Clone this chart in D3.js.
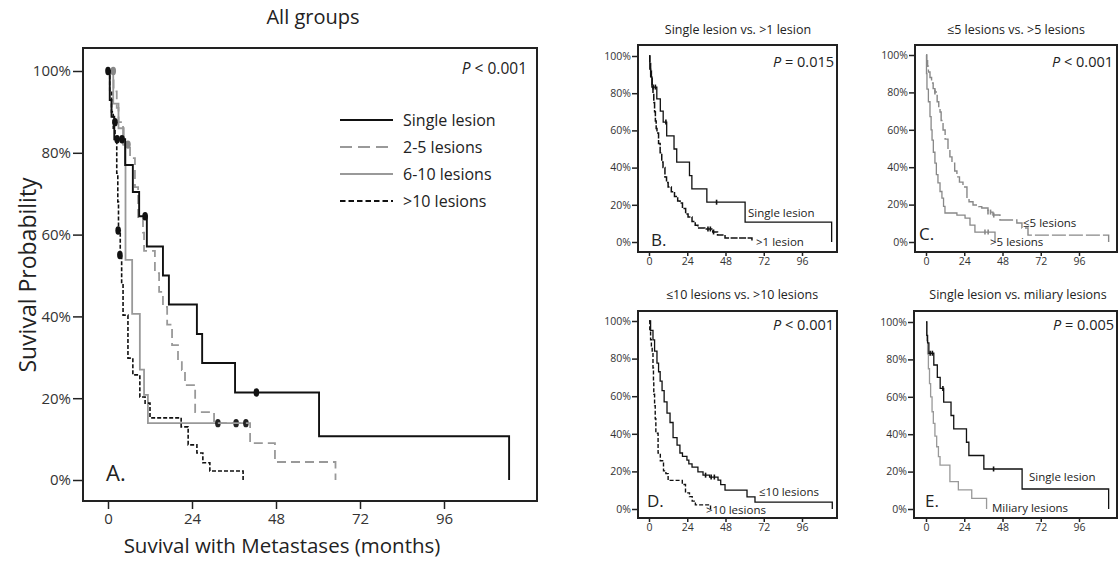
<!DOCTYPE html>
<html>
<head>
<meta charset="utf-8">
<script src="https://cdn.jsdelivr.net/npm/d3@7"></script>
<style>
  html, body { margin: 0; padding: 0; background: #fff; }
  svg { display: block; font-family: "Open Sans", "Noto Sans", sans-serif; }
</style>
</head>
<body>
<svg id="chart" width="1120" height="562"></svg>
<script>
// ---------------- DATA (month, survival %) step points ----------------
const xTicks = [0, 24, 48, 72, 96];
const yTicks = [0, 20, 40, 60, 80, 100];

const singleLesion = [[0,100],[0.5,92.9],[1.0,88.8],[1.8,83.3],[4.9,77.0],[7.1,70.4],[8.9,64.5],[11.1,57.1],[15.7,50.0],[17.4,42.9],[25.4,35.7],[26.9,28.6],[36.3,21.4],[60.3,10.7],[114.6,0]];
const singleCensor = [[2.6,83.3],[4.0,83.3],[10.6,64.5],[42.4,21.4]];

const lesions2to5 = [[0,100],[1.6,95],[2.5,91],[3.0,87.5],[4.3,82],[6.3,78.7],[7.7,71.6],[8.6,64.3],[10.0,60.5],[10.3,56],[13.4,50.6],[14.6,46],[15.7,42.3],[16.9,38],[18.3,33],[20.0,29.3],[21.1,26.9],[22.0,23.2],[24.9,16.6],[30.3,13.9],[40.6,9],[47.7,4.4],[65.0,0]];
const lesions2to5Censor = [[1.5,100],[5.7,82]];

const lesions6to10 = [[0,100],[1.5,92],[3.0,86],[4.5,82],[5.0,53.8],[6.9,40.6],[9.1,27],[10.3,20.8],[11.4,13.9],[40.3,13.9]];
const lesions6to10Censor = [[31.4,13.9],[36.6,13.9],[39.4,13.9]];

const lesionsOver10 = [[0,100],[0.5,95],[1.0,90],[1.5,86],[2.0,83.5],[2.5,75],[2.8,68],[3.0,61],[3.5,55],[3.9,48],[4.3,40.3],[5.7,29.8],[7.1,25.7],[9.1,20.3],[10.6,18.8],[12.0,15.2],[20.9,13.0],[22.9,8.6],[25.4,6.6],[27.1,4.2],[29.1,2.2],[38.6,0]];
const lesionsOver10Censor = [[0,100],[2.0,87.5],[2.9,61],[3.4,55]];

const moreThanOne = [[0,100],[0.5,96],[1,92],[1.5,88],[2,84],[2.5,80],[3,75],[3.5,70],[4,65],[4.5,61],[5,58.6],[6,53],[7,48],[8,43],[8.8,40],[10,35],[11,32],[12,29.6],[14,27],[16,24.5],[18,22],[19.5,21],[21,18],[23,15],[24.5,13.4],[27,11],[29,9],[30.7,7.5],[35,7.0],[40,5.4],[43,3.8],[47.7,2.2],[64.6,0]];
const moreThanOneCensor = [[37,7.0],[38.5,7.0],[40.5,5.4]];

const upTo5 = [[0,100],[0.5,97],[1,94],[1.5,90.9],[2.5,88],[3.5,85],[4.5,82],[5.6,80.2],[7,75],[8,72],[8.8,69.5],[9.5,65],[10.7,59.9],[12,55],[13.8,49.2],[15,45.5],[16.3,42.2],[18,38],[19.4,34.8],[21,32],[23.2,29.4],[25.7,23.5],[27,21.5],[29.5,19.8],[33,18.9],[35,18.2],[38.9,16],[42,14.4],[46.4,11.8],[57,10.2],[60.2,7.5],[64,3.7],[114.6,0]];
const upTo5Censor = [[5.6,80.2],[38.9,16],[40.5,16],[42.5,14.4]];

const over5 = [[0,100],[0.3,90],[0.6,81.7],[1.5,75],[2.5,67],[3.2,60],[3.8,54.5],[4.6,48],[5.6,42.2],[6.5,36],[7.5,31.6],[8.8,27],[10,23.5],[11,19],[11.9,15.5],[19.4,14.4],[24.5,12.8],[27.6,9],[30.7,5.3],[43.3,0]];
const over5Censor = [[37,5.3],[39,5.3]];

const upTo10 = [[0,100],[1,95],[2.5,90],[3.5,84],[5,77.6],[6,73],[7,68],[8.2,63],[9.5,57],[11.3,51],[13.2,46],[15.1,38],[17.6,34],[19.4,29.8],[21,28],[23.8,26],[25,24],[27,22.3],[30.7,19.7],[33.9,18],[38,17],[43.3,15.4],[45,13],[47.7,10],[61.5,6.4],[66.5,3.7],[115,0]];
const upTo10Censor = [[35.5,18],[39,17],[41,17]];

const miliary = [[0,100],[0.5,90],[1,83],[1.5,75],[2.2,67],[2.9,60],[3.8,52],[4.6,45.8],[5.6,39],[6.7,33.3],[7.8,28],[8.8,23.5],[15,14.6],[20.3,10.2],[28.7,5.7],[38,0]];

// ---------------- DRAWING ----------------
const svg = d3.select("#chart");
const dark = "#222";
const lineGen = (x, y) => d3.line().x(d => x(d[0])).y(d => y(d[1])).curve(d3.curveStepAfter);

function drawPanel(cfg) {
  const g = svg.append("g");
  const x = d3.scaleLinear().domain([0, 96]).range(cfg.xr);
  const y = d3.scaleLinear().domain([0, 100]).range(cfg.yr);

  g.append("text").attr("x", cfg.title.x).attr("y", cfg.title.y)
    .attr("text-anchor", "middle").attr("font-size", cfg.title.size).attr("fill", "#222")
    .text(cfg.title.text);

  const ya = g.append("g").attr("transform", `translate(${cfg.frame[0]},0)`)
    .call(d3.axisLeft(y).tickValues(yTicks).tickFormat(d => d + "%").tickSize(cfg.yTick).tickPadding(cfg.yPad));
  ya.select(".domain").remove();
  ya.selectAll("line").attr("stroke", dark).attr("stroke-width", 1.5);
  ya.selectAll("text").attr("font-size", cfg.tickFont).attr("fill", "#333").attr("font-family", "Open Sans");

  const xa = g.append("g").attr("transform", `translate(0,${cfg.frame[3]})`)
    .call(d3.axisBottom(x).tickValues(xTicks).tickSize(cfg.xTick).tickPadding(cfg.xPad));
  xa.select(".domain").remove();
  xa.selectAll("line").attr("stroke", dark).attr("stroke-width", 1.5);
  xa.selectAll("text").attr("font-size", cfg.xTickFont).attr("fill", "#333").attr("font-family", "Open Sans");

  const lg = lineGen(x, y);
  cfg.series.forEach(s => {
    g.append("path").attr("d", lg(s.data)).attr("fill", "none")
      .attr("stroke", s.color).attr("stroke-width", s.width)
      .attr("stroke-dasharray", s.dash || null);
    if (s.censor) {
      s.censor.forEach(c => {
        if (cfg.bigDots) {
          g.append("ellipse").attr("cx", x(c[0])).attr("cy", y(c[1]))
            .attr("rx", 2.8).attr("ry", 4.2).attr("fill", s.censorColor || "#111");
        } else {
          g.append("line").attr("x1", x(c[0])).attr("x2", x(c[0]))
            .attr("y1", y(c[1]) - 2.5).attr("y2", y(c[1]) + 2.5)
            .attr("stroke", s.color).attr("stroke-width", 1.6);
        }
      });
    }
  });

  g.append("rect").attr("x", cfg.frame[0]).attr("y", cfg.frame[1])
    .attr("width", cfg.frame[2] - cfg.frame[0]).attr("height", cfg.frame[3] - cfg.frame[1])
    .attr("fill", "none").attr("stroke", dark).attr("stroke-width", cfg.frameW);

  const p = g.append("text").attr("x", cfg.p.x).attr("y", cfg.p.y).attr("text-anchor", "end")
    .attr("font-size", cfg.p.size).attr("fill", "#222");
  p.append("tspan").attr("font-style", "italic").text("P");
  p.append("tspan").text(cfg.p.text);

  g.append("text").attr("x", cfg.letter.x).attr("y", cfg.letter.y)
    .attr("font-size", cfg.letter.size).attr("fill", "#222").text(cfg.letter.text);

  (cfg.notes || []).forEach(n => {
    g.append("text").attr("x", n.x).attr("y", n.y).attr("font-size", n.size)
      .attr("fill", "#222").text(n.text);
  });
  return { g, x, y };
}

// Panel A
drawPanel({
  frame: [83, 48, 537, 501], xr: [108, 444], yr: [480, 71],
  yTick: 10, yPad: 2, xTick: 8, xPad: 4, tickFont: 15, xTickFont: 15, frameW: 2, bigDots: true,
  title: { text: "All groups", x: 313, y: 24, size: 20 },
  p: { text: " < 0.001", x: 527, y: 74, size: 15.5 },
  letter: { text: "A.", x: 106, y: 481, size: 22 },
  series: [
    { data: lesions6to10, color: "#999", width: 1.8, censor: lesions6to10Censor, censorColor: "#222" },
    { data: lesions2to5, color: "#999", width: 1.8, dash: "9,5", censor: lesions2to5Censor, censorColor: "#888" },
    { data: lesionsOver10, color: "#111", width: 1.6, dash: "4,2", censor: lesionsOver10Censor },
    { data: singleLesion, color: "#111", width: 1.9, censor: singleCensor }
  ]
});

// Legend in A
const legendItems = [
  { label: "Single lesion", color: "#111", dash: null, w: 2 },
  { label: "2-5 lesions", color: "#999", dash: "12,6", w: 2.2 },
  { label: "6-10 lesions", color: "#999", dash: null, w: 2.2 },
  { label: ">10 lesions", color: "#111", dash: "5.5,3", w: 1.8 }
];
const legend = svg.append("g");
legendItems.forEach((d, i) => {
  const yy = 120 + i * 27;
  legend.append("line").attr("x1", 340).attr("x2", 393).attr("y1", yy).attr("y2", yy)
    .attr("stroke", d.color).attr("stroke-width", d.w).attr("stroke-dasharray", d.dash);
  legend.append("text").attr("x", 403).attr("y", yy + 6).attr("font-size", 16).attr("fill", "#222").text(d.label);
});

// axis titles A
svg.append("text").attr("x", 282).attr("y", 553).attr("text-anchor", "middle")
  .attr("font-size", 20.5).attr("fill", "#222").text("Suvival with Metastases (months)");
svg.append("text").attr("transform", "translate(36,275) rotate(-90)").attr("text-anchor", "middle")
  .attr("font-size", 23).attr("fill", "#222").text("Suvival Probability");

const small = { yTick: 6, yPad: 1, xTick: 4, xPad: 2, tickFont: 10.5, xTickFont: 10.5, frameW: 2 };

// Panel B
drawPanel(Object.assign({}, small, {
  frame: [638, 45, 837, 252], xr: [649, 802], yr: [242, 56],
  title: { text: "Single lesion vs. >1 lesion", x: 738, y: 34, size: 12.5 },
  p: { text: " = 0.015", x: 834, y: 67, size: 14.5 },
  letter: { text: "B.", x: 651, y: 246, size: 17 },
  notes: [
    { text: "Single lesion", x: 748, y: 217, size: 11.5 },
    { text: ">1 lesion", x: 756, y: 246, size: 11.5 }
  ],
  series: [
    { data: moreThanOne, color: "#111", width: 1.5, dash: "7,1.5", censor: moreThanOneCensor },
    { data: singleLesion, color: "#111", width: 1.3, censor: singleCensor }
  ]
}));

// Panel C
drawPanel(Object.assign({}, small, {
  frame: [915, 45, 1117, 252], xr: [926, 1079], yr: [242, 55],
  title: { text: "≤5 lesions vs. >5 lesions", x: 1016, y: 34, size: 12.5 },
  p: { text: " < 0.001", x: 1113, y: 67, size: 14.5 },
  letter: { text: "C.", x: 919, y: 240, size: 17 },
  notes: [
    { text: "≤5 lesions", x: 1023, y: 227, size: 11.5 },
    { text: ">5 lesions", x: 990, y: 246, size: 11.5 }
  ],
  series: [
    { data: over5, color: "#888", width: 1.3, censor: over5Censor },
    { data: upTo5, color: "#888", width: 1.4, dash: "14,3", censor: upTo5Censor }
  ]
}));

// Panel D
drawPanel(Object.assign({}, small, {
  frame: [638, 311, 837, 518], xr: [649, 802], yr: [509, 321],
  title: { text: "≤10 lesions vs. >10 lesions", x: 742, y: 299, size: 12.5 },
  p: { text: " < 0.001", x: 834, y: 330, size: 14.5 },
  letter: { text: "D.", x: 647, y: 507, size: 17 },
  notes: [
    { text: "≤10 lesions", x: 759, y: 496, size: 11.5 },
    { text: ">10 lesions", x: 706, y: 514, size: 11.5 }
  ],
  series: [
    { data: lesionsOver10, color: "#111", width: 1.4, dash: "4,2" },
    { data: upTo10, color: "#111", width: 1.3, censor: upTo10Censor }
  ]
}));

// Panel E
drawPanel(Object.assign({}, small, {
  frame: [914, 311, 1117, 518], xr: [926, 1079], yr: [509, 322],
  title: { text: "Single lesion vs. miliary lesions", x: 1018, y: 299, size: 12.5 },
  p: { text: " = 0.005", x: 1114, y: 330, size: 14.5 },
  letter: { text: "E.", x: 925, y: 507, size: 17 },
  notes: [
    { text: "Single lesion", x: 1029, y: 481, size: 11.5 },
    { text: "Miliary lesions", x: 992, y: 512, size: 11.5 }
  ],
  series: [
    { data: miliary, color: "#999", width: 1.3 },
    { data: singleLesion, color: "#111", width: 1.3, censor: singleCensor }
  ]
}));
</script>
</body>
</html>
